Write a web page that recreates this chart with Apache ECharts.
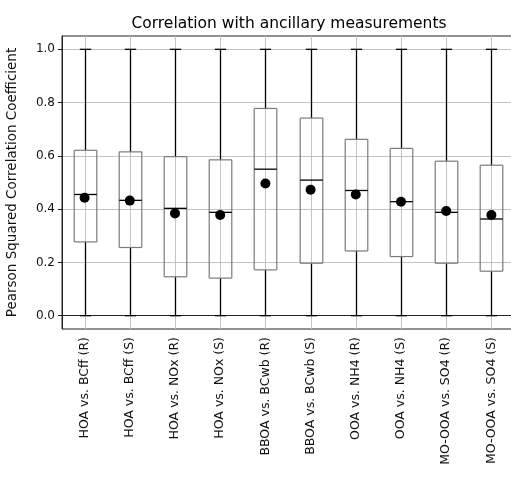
<!DOCTYPE html>
<html>
<head>
<meta charset="utf-8">
<script src="https://cdn.jsdelivr.net/npm/echarts@6/dist/echarts.min.js"></script>
<style>
  html, body { margin: 0; padding: 0; background: #fff; }
  #chart { width: 511px; height: 477px; }
</style>
</head>
<body>
<div id="chart"></div>
<script>
// 类别
const categories = [
  'HOA vs. BCff (R)', 'HOA vs. BCff (S)', 'HOA vs. NOx (R)', 'HOA vs. NOx (S)',
  'BBOA vs. BCwb (R)', 'BBOA vs. BCwb (S)', 'OOA vs. NH4 (R)', 'OOA vs. NH4 (S)',
  'MO-OOA vs. SO4 (R)', 'MO-OOA vs. SO4 (S)'
];
// 箱线数据
const whiskerLow  = [0, 0, 0, 0, 0, 0, 0, 0, 0, 0];
const q1          = [0.277, 0.256, 0.146, 0.141, 0.172, 0.197, 0.243, 0.222, 0.197, 0.167];
const medians     = [0.455, 0.433, 0.403, 0.388, 0.550, 0.509, 0.470, 0.428, 0.388, 0.363];
const q3          = [0.621, 0.615, 0.597, 0.585, 0.778, 0.742, 0.662, 0.628, 0.580, 0.565];
const whiskerHigh = [1, 1, 1, 1, 1, 1, 1, 1, 1, 1];
// 均值
const means       = [0.443, 0.432, 0.384, 0.378, 0.496, 0.473, 0.455, 0.428, 0.393, 0.378];
// y 轴刻度、范围
const yTicks = [0, 0.2, 0.4, 0.6, 0.8, 1.0];
const yMin = -0.05;
const yMax = 1.05;

const boxData = categories.map((c, i) => [i, whiskerLow[i], q1[i], medians[i], q3[i], whiskerHigh[i]]);
const meanData = categories.map((c, i) => [i, means[i]]);
const gridData = categories.map((c, i) => [i, yMin, yMax]);

const chart = echarts.init(document.getElementById('chart'));

// 竖向网格线
function renderGrid(params, api) {
  const a = api.coord([api.value(0), api.value(1)]);
  const b = api.coord([api.value(0), api.value(2)]);
  const cx = Math.round(a[0]) + 0.5;
  return {
    type: 'line',
    shape: { x1: cx, y1: a[1], x2: cx, y2: b[1] },
    style: { stroke: '#c4c4c4', lineWidth: 1, fill: null }
  };
}

function seg(x1, y1, x2, y2, stroke, w) {
  return { type: 'line', shape: { x1, y1, x2, y2 }, style: { stroke: stroke, lineWidth: w, fill: null } };
}

function renderBox(params, api) {
  const x = api.value(0);
  const lo = api.coord([x, api.value(1)]);
  const b1 = api.coord([x, api.value(2)]);
  const md = api.coord([x, api.value(3)]);
  const b3 = api.coord([x, api.value(4)]);
  const hi = api.coord([x, api.value(5)]);
  const band = api.size([1, 0])[0];
  const half = band * 0.25;
  const cap = band * 0.125;
  const cx = Math.round(lo[0]) + 0.5;
  const L = cx - half, R = cx + half;
  return {
    type: 'group',
    children: [
      seg(cx, lo[1], cx, b1[1], '#000', 1.3),
      seg(cx, b3[1], cx, hi[1], '#000', 1.3),
      seg(cx - cap, lo[1], cx + cap, lo[1], '#000', 1.3),
      seg(cx - cap, hi[1], cx + cap, hi[1], '#000', 1.3),
      // 箱体
      seg(L, b3[1], R, b3[1], '#7a7a7a', 1.2),
      seg(L, b1[1], R, b1[1], '#7a7a7a', 1.2),
      seg(L, b3[1], L, b1[1], '#7a7a7a', 1.2),
      seg(R, b3[1], R, b1[1], '#7a7a7a', 1.2),
      seg(L, md[1], R, md[1], '#000', 1.3)
    ]
  };
}

chart.setOption({
  animation: false,
  title: {
    text: 'Correlation with ancillary measurements',
    left: 284,
    top: 11,
    textAlign: 'center',
    textStyle: { fontFamily: 'DejaVu Sans', fontSize: 15.5, fontWeight: 'normal', color: '#000' }
  },
  grid: {
    left: 62, top: 36, width: 452, height: 293,
    outerBoundsMode: 'none',
    show: true, borderColor: '#222', borderWidth: 1
  },
  xAxis: {
    type: 'category',
    data: categories,
    boundaryGap: true,
    axisLine: { lineStyle: { color: '#222' } },
    axisTick: { alignWithLabel: true, length: 4, lineStyle: { color: '#222' } },
    axisLabel: {
      rotate: 90, interval: 0, margin: 8,
      fontFamily: 'DejaVu Sans', fontSize: 12.5, color: '#111'
    },
    splitLine: { show: false }
  },
  yAxis: {
    type: 'value',
    min: yMin,
    max: yMax,
    name: 'Pearson Squared Correlation Coefficient',
    nameLocation: 'middle',
    nameGap: 43,
    nameTextStyle: { fontFamily: 'DejaVu Sans', fontSize: 13.5, color: '#111' },
    axisLine: { show: true, lineStyle: { color: '#222' } },
    axisTick: { show: true, length: 4, customValues: yTicks, lineStyle: { color: '#222' } },
    axisLabel: {
      fontFamily: 'DejaVu Sans', fontSize: 12, color: '#111', margin: 7,
      customValues: yTicks,
      formatter: v => v.toFixed(1)
    },
    splitLine: { lineStyle: { color: '#c4c4c4', width: 1 } }
  },
  series: [
    {
      type: 'custom',
      renderItem: renderGrid,
      data: gridData,
      encode: { x: 0, y: [1, 2] },
      silent: true,
      z: 1
    },
    {
      type: 'custom',
      renderItem: renderBox,
      data: boxData,
      encode: { x: 0, y: [1, 2, 3, 4, 5] },
      silent: true,
      z: 2
    },
    {
      type: 'scatter',
      data: meanData,
      symbol: 'circle',
      symbolSize: 10,
      itemStyle: { color: '#000', opacity: 1 },
      silent: true,
      z: 5
    }
  ]
});
</script>
</body>
</html>
